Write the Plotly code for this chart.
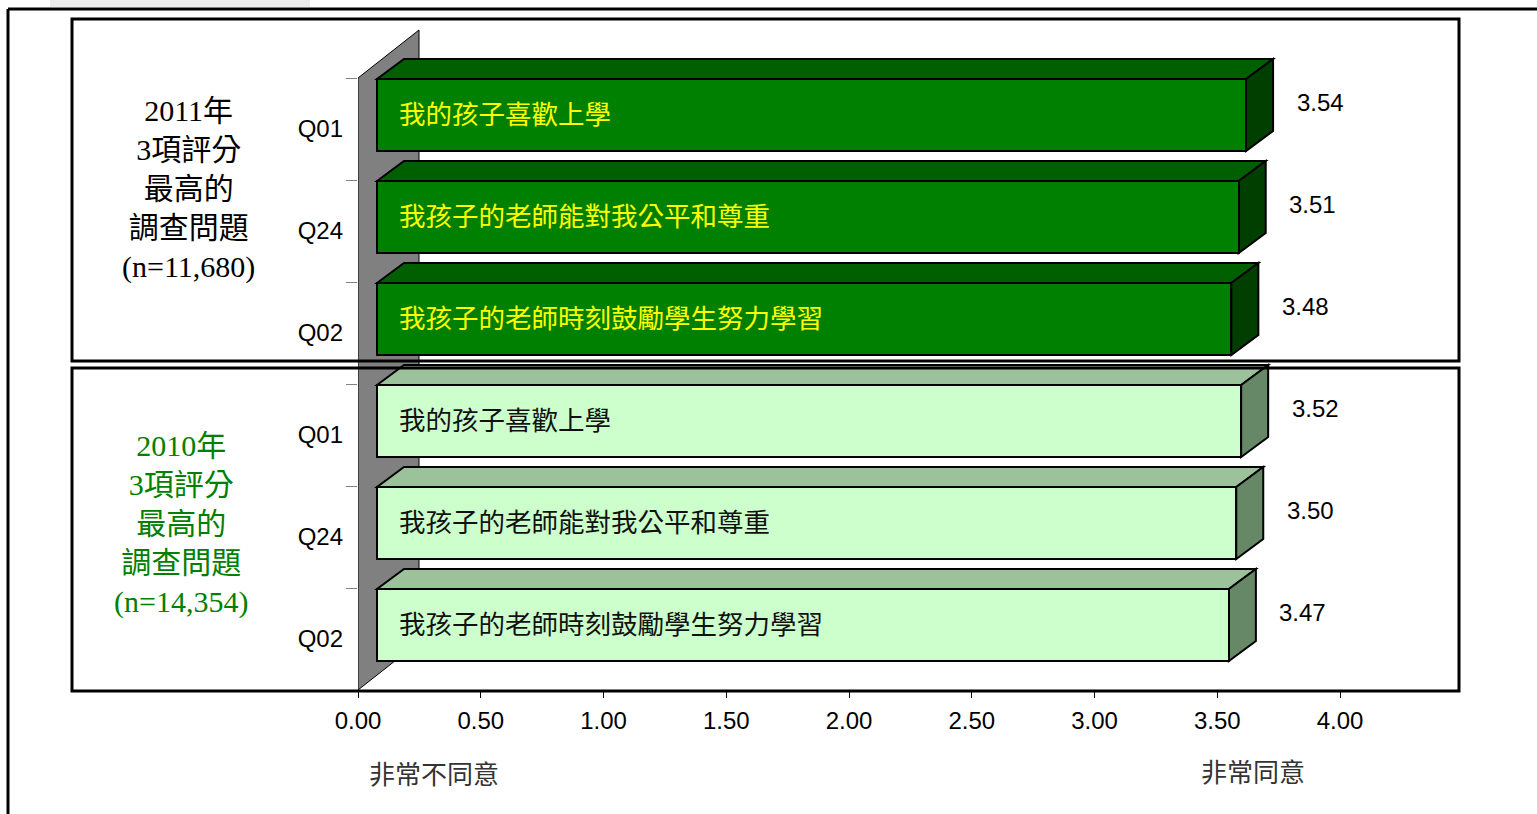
import plotly.graph_objects as go

# data
questions = ["Q01", "Q24", "Q02", "Q01", "Q24", "Q02"]
statements = ["我的孩子喜歡上學", "我孩子的老師能對我公平和尊重", "我孩子的老師時刻鼓勵學生努力學習"]
scores_2011 = [3.54, 3.51, 3.48]
scores_2010 = [3.52, 3.50, 3.47]
group_2011 = "2011年<br>3項評分<br>最高的<br>調查問題<br>(n=11,680)"
group_2010 = "2010年<br>3項評分<br>最高的<br>調查問題<br>(n=14,354)"
x_ticks = [0.0, 0.5, 1.0, 1.5, 2.0, 2.5, 3.0, 3.5, 4.0]
label_low = "非常不同意"
label_high = "非常同意"

# geometry (pixels of the page)
W, H = 1537, 814
L, R, T, B = 358, 1459, 28, 690
PXX = 245.5  # pixels per score unit
PXY = 102.0  # pixels per category slot
XMAX = (R - L) / PXX
YTOP = 5.5 - (B - T) / PXY

BASE = 19 / PXX           # front face starts a little right of the wall
DX, DY = 27 / PXX, 20 / PXY   # 3D depth of bars
BAR_W = 72 / PXY
BAR_OFF = -0.5 + 1 / PXY
WALL_X, WALL_Y = 61 / PXX, 48 / PXY

ARIAL = "Liberation Sans, Arial, sans-serif"
CJK = "Noto Sans CJK TC, sans-serif"
SERIF = "Liberation Serif, Noto Sans CJK TC, serif"


def xp(p):
    return (p - L) / (R - L)


def yp(p):
    return (B - p) / (B - T)


fig = go.Figure()
shapes = []
annotations = []

# back wall
shapes.append(dict(type="path", xref="x", yref="y", layer="below",
                   path=f"M 0,-0.5 L {WALL_X},{-0.5 - WALL_Y} L {WALL_X},{5.5 - WALL_Y} L 0,5.5 Z",
                   fillcolor="#808080", line=dict(color="black", width=1)))

groups = [
    (scores_2011, [0, 1, 2], "#008000", "#006000", "#003f00", "#FFFF00"),
    (scores_2010, [3, 4, 5], "#CCFFCC", "#9CC29C", "#668866", "#111111"),
]

for scores, pos, front, top_c, side_c, txt_c in groups:
    for i, v in zip(pos, scores):
        top = i + BAR_OFF
        bot = top + BAR_W
        x0, x1 = BASE, BASE + v
        shapes.append(dict(type="path", xref="x", yref="y", layer="below",
                           path=f"M {x0},{top} L {x0 + DX},{top - DY} L {x1 + DX},{top - DY} L {x1},{top} Z",
                           fillcolor=top_c, line=dict(color="black", width=2)))
        shapes.append(dict(type="path", xref="x", yref="y", layer="below",
                           path=f"M {x1},{top} L {x1 + DX},{top - DY} L {x1 + DX},{bot - DY} L {x1},{bot} Z",
                           fillcolor=side_c, line=dict(color="black", width=2)))
        annotations.append(dict(x=x1 + DX + 47 / PXX, y=top - DY / 2 + BAR_W / 2 - 3 / PXY,
                                xref="x", yref="y", text=f"{v:.2f}", showarrow=False,
                                xanchor="center", yanchor="middle",
                                font=dict(family=ARIAL, size=24, color="black")))
    for k, i in enumerate(pos):
        annotations.append(dict(x=BASE + 20 / PXX, y=i + BAR_OFF + BAR_W / 2 - 3 / PXY, xref="x", yref="y",
                                xanchor="left", yanchor="middle", text=statements[k], showarrow=False,
                                font=dict(family=CJK, size=26.5, color=txt_c)))
    fig.add_trace(go.Bar(orientation="h", y=pos, x=scores, base=BASE, width=BAR_W,
                         offset=BAR_OFF, marker=dict(color=front, line=dict(color="black", width=2)),
                         hoverinfo="skip", showlegend=False))

# frames
shapes.append(dict(type="rect", xref="paper", yref="paper", x0=xp(50), x1=xp(310), y0=yp(0), y1=yp(7),
                   fillcolor="#ececec", line=dict(width=0)))
shapes.append(dict(type="line", xref="paper", yref="paper", x0=xp(8), x1=xp(W + 5), y0=yp(9), y1=yp(9),
                   line=dict(color="black", width=3)))
shapes.append(dict(type="line", xref="paper", yref="paper", x0=xp(8), x1=xp(8), y0=yp(9), y1=yp(H + 5),
                   line=dict(color="black", width=3)))
for y0, y1 in [(19, 361), (368, 691)]:
    shapes.append(dict(type="rect", xref="paper", yref="paper", x0=xp(72), x1=xp(1459),
                       y0=yp(y1), y1=yp(y0), line=dict(color="black", width=3)))

# left group labels
annotations.append(dict(x=xp(188), y=yp(189), xref="paper", yref="paper", text=group_2011,
                        xanchor="center", yanchor="middle",
                        showarrow=False, font=dict(family=SERIF, size=30, color="black")))
annotations.append(dict(x=xp(181), y=yp(524), xref="paper", yref="paper", text=group_2010,
                        xanchor="center", yanchor="middle",
                        showarrow=False, font=dict(family=SERIF, size=30, color="#008000")))

# scale end labels
annotations.append(dict(x=xp(434), y=yp(772), xref="paper", yref="paper", text=label_low,
                        xanchor="center", yanchor="middle",
                        showarrow=False, font=dict(family=CJK, size=26, color="#333333")))
annotations.append(dict(x=xp(1253), y=yp(770), xref="paper", yref="paper", text=label_high,
                        xanchor="center", yanchor="middle",
                        showarrow=False, font=dict(family=CJK, size=26, color="#333333")))

fig.update_layout(
    width=W, height=H,
    margin=dict(l=L, r=W - R, t=T, b=H - B, pad=0),
    paper_bgcolor="white", plot_bgcolor="white",
    shapes=shapes, annotations=annotations,
    bargap=0,
    xaxis=dict(range=[0, XMAX], tickvals=x_ticks, ticktext=[f"{t:.2f}" for t in x_ticks],
               ticks="outside", ticklen=7, tickcolor="black", showgrid=False, zeroline=False,
               showline=False, ticklabelstandoff=2,
               tickfont=dict(family=ARIAL, size=24, color="black")),
    yaxis=dict(range=[5.5, YTOP], tickvals=list(range(6)), ticktext=questions,
               ticks="", showgrid=False, zeroline=False, showline=False, ticklabelstandoff=14,
               tickfont=dict(family=ARIAL, size=24, color="black"),
               minor=dict(tickvals=[k - 0.5 for k in range(7)], ticks="outside", ticklen=11,
                          tickcolor="#808080", showgrid=False)),
)

fig.write_html("out.html", config=dict(displayModeBar=False),
               post_script="document.body.style.margin='0';document.body.style.overflow='hidden';")
